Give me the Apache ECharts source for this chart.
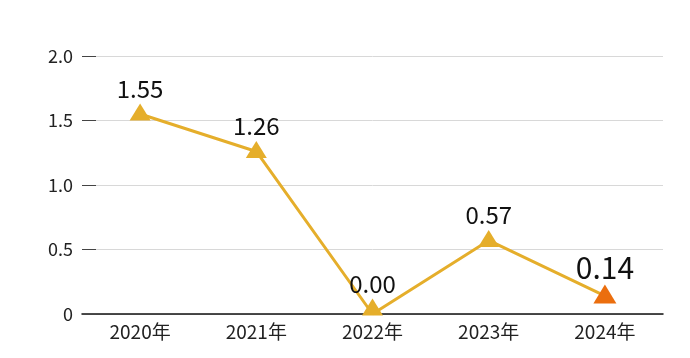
<!DOCTYPE html>
<html><head><meta charset="utf-8">
<script src="https://cdn.jsdelivr.net/npm/echarts@6/dist/echarts.min.js"></script>
<style>html,body{margin:0;padding:0;background:#fff}#c{width:690px;height:358px}</style>
</head><body><div id="c"></div>
<script>
const categories = ['2020年','2021年','2022年','2023年','2024年'];
const values = [1.55, 1.26, 0.00, 0.57, 0.14];
const yTicks = [0, 0.5, 1.0, 1.5, 2.0];
const FONT = "'Noto Sans CJK JP', 'Noto Sans', sans-serif";
const gold = '#E5AE2B', orange = '#EB6E0E';
const chart = echarts.init(document.getElementById('c'));
const last = values.length - 1;
chart.setOption({
  animation: false,
  grid: {left: 82, right: 27, top: 56, bottom: 44},
  xAxis: {
    type: 'category', data: categories, boundaryGap: true,
    axisLine: {lineStyle: {color: '#111', width: 1.5}},
    axisTick: {show: false},
    axisLabel: {color: '#222', fontSize: 19, fontFamily: FONT, margin: 8}
  },
  yAxis: {
    type: 'value', min: 0, max: 2, interval: 0.5,
    axisLine: {show: false},
    axisTick: {show: true, inside: true, length: 14, lineStyle: {color: '#444', width: 1}},
    splitLine: {lineStyle: {color: '#d8d8d8', width: 1}},
    axisLabel: {color: '#222', fontSize: 18, fontFamily: FONT, margin: 9,
      formatter: v => v === 0 ? '0' : v.toFixed(1)}
  },
  series: [{
    type: 'line', data: values.map((v, i) => ({
      value: v,
      symbolSize: i === last ? [23, 19] : [21, 17],
      symbolOffset: v === 0 ? [0, -7] : [0, -2],
      itemStyle: {color: i === last ? orange : gold},
      label: i === last ? {fontSize: 30, distance: 2} : {}
    })),
    symbol: 'triangle',
    lineStyle: {color: gold, width: 3},
    itemStyle: {color: gold},
    label: {show: true, position: 'top', distance: 3, color: '#111', fontSize: 24, fontFamily: FONT,
      formatter: p => p.value.toFixed(2)},
    z: 3
  }]
});
</script></body></html>
